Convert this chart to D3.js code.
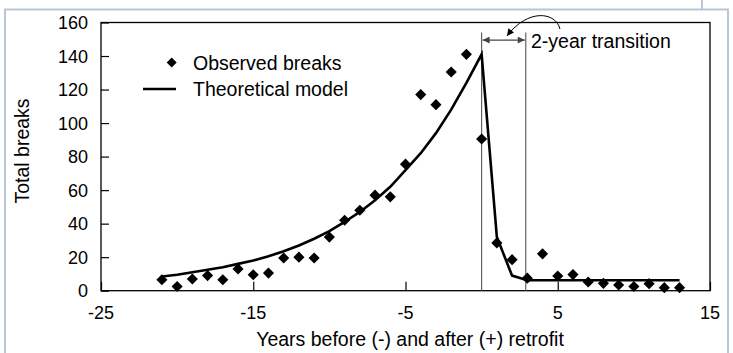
<!DOCTYPE html>
<html>
<head>
<meta charset="utf-8">
<script src="https://cdn.jsdelivr.net/npm/d3@7"></script>
<style>
  html, body { margin: 0; padding: 0; background: #fff; }
  svg { display: block; font-family: "Liberation Sans", Arial, Helvetica, sans-serif; }
</style>
</head>
<body>
<svg id="chart" width="733" height="353"></svg>
<script>
// ---- data ----
const observedYears = [-21,-20,-19,-18,-17,-16,-15,-14,-13,-12,-11,-10,-9,-8,-7,-6,-5,-4,-3,-2,-1,0,1,2,3,4,5,6,7,8,9,10,11,12,13];
const observedBreaks = [6.5,2.5,7,9,6.5,13,9.5,10.5,19.5,20,19.5,32,42,48,57,56,75.5,117,111,130.5,141,90.5,28.5,18.5,7.5,22,8.8,9.6,5.2,4.4,3.4,2.5,4.2,1.8,1.8];
const modelYears = [-21,-20,-19,-18,-17,-16,-15,-14,-13,-12,-11,-10,-9,-8,-7,-6,-5,-4,-3,-2,-1,0,1,2,3,4,5,6,7,8,9,10,11,12,13];
const modelBreaks = [8.5,9.5,11,12.5,14,16,18,20.5,23.5,27,31,35.5,41,47,54,62,72,82,94,108,124,141,32,9,6.2,6.2,6.2,6.2,6.2,6.2,6.2,6.2,6.2,6.2,6.2];
const xTicks = [-25,-15,-5,5,15];
const yTicks = [0,20,40,60,80,100,120,140,160];
const transitionLines = [0, 2.9];
const legendLabels = ["Observed breaks", "Theoretical model"];
const xTitle = "Years before (-) and after (+) retrofit";
const yTitle = "Total breaks";
const annotation = "2-year transition";

// ---- layout ----
const svg = d3.select("#chart");
const L = 101, R = 710, T = 22.5, B = 290.7;
const x = d3.scaleLinear().domain([-25, 15]).range([L, R]);
const y = d3.scaleLinear().domain([0, 160]).range([B, T]);
const labelSize = 19.5, tickSize = 18;

// outer frame
const frameColor = "#b7c7d6";
svg.append("path")
  .attr("d", `M5,353 L5,9.5 L728,9.5 L728,353`)
  .attr("fill", "none").attr("stroke", frameColor).attr("stroke-width", 2);
svg.append("line").attr("x1", 702).attr("x2", 702).attr("y1", 0).attr("y2", 9.5)
  .attr("stroke", frameColor).attr("stroke-width", 2);

// plot border
svg.append("rect").attr("x", L).attr("y", T).attr("width", R - L).attr("height", B - T)
  .attr("fill", "none").attr("stroke", "#000").attr("stroke-width", 1.3);

// y axis ticks (inward)
const yAxis = d3.axisRight(y).tickValues(yTicks).tickSize(8).tickFormat("");
svg.append("g").attr("transform", `translate(${L},0)`).call(yAxis)
  .call(g => g.select(".domain").remove())
  .call(g => g.selectAll("line").attr("stroke", "#000").attr("stroke-width", 1.2));
svg.append("g").selectAll("text").data(yTicks).join("text")
  .attr("x", 88).attr("y", d => y(d) + 6.5)
  .attr("text-anchor", "end").attr("font-size", tickSize).attr("fill", "#000")
  .text(d => d);

// x axis ticks (inward)
const xAxis = d3.axisTop(x).tickValues(xTicks).tickSize(9).tickFormat("");
svg.append("g").attr("transform", `translate(0,${B})`).call(xAxis)
  .call(g => g.select(".domain").remove())
  .call(g => g.selectAll("line").attr("stroke", "#000").attr("stroke-width", 1.2));
svg.append("g").selectAll("text").data(xTicks).join("text")
  .attr("x", d => x(d)).attr("y", 319)
  .attr("text-anchor", "middle").attr("font-size", tickSize).attr("fill", "#000")
  .text(d => d);

// axis titles
svg.append("text").attr("x", 410).attr("y", 346).attr("text-anchor", "middle")
  .attr("font-size", labelSize).attr("fill", "#000").text(xTitle);
svg.append("text").attr("transform", `translate(29,151) rotate(-90)`)
  .attr("text-anchor", "middle").attr("font-size", labelSize).attr("fill", "#000").text(yTitle);

// transition vertical lines
svg.append("g").selectAll("line").data(transitionLines).join("line")
  .attr("x1", d => x(d)).attr("x2", d => x(d))
  .attr("y1", y(154)).attr("y2", B)
  .attr("stroke", "#555").attr("stroke-width", 1.1);

// arrow markers
const defs = svg.append("defs");
defs.append("marker").attr("id", "ah").attr("viewBox", "0 0 10 10")
  .attr("refX", 10).attr("refY", 5).attr("markerWidth", 8).attr("markerHeight", 7)
  .attr("markerUnits", "userSpaceOnUse").attr("orient", "auto-start-reverse")
  .append("path").attr("d", "M0,0 L10,5 L0,10 Z").attr("fill", "#444");
defs.append("marker").attr("id", "ah2").attr("viewBox", "0 0 10 10")
  .attr("refX", 10).attr("refY", 5).attr("markerWidth", 8).attr("markerHeight", 7)
  .attr("markerUnits", "userSpaceOnUse").attr("orient", "auto")
  .append("path").attr("d", "M0,0 L10,5 L0,10 Z").attr("fill", "#000");

// double arrow between transition lines
const ay = y(149.5);
svg.append("line")
  .attr("x1", x(transitionLines[0]) + 1).attr("x2", x(transitionLines[1]) - 1)
  .attr("y1", ay).attr("y2", ay)
  .attr("stroke", "#444").attr("stroke-width", 1.2)
  .attr("marker-start", "url(#ah)").attr("marker-end", "url(#ah)");

// curved arrow
svg.append("path")
  .attr("d", `M560,29 C556,12 528,8 507,36`)
  .attr("fill", "none").attr("stroke", "#000").attr("stroke-width", 1)
  .attr("marker-end", "url(#ah2)");

svg.append("text").attr("x", 531).attr("y", 48)
  .attr("font-size", labelSize).attr("fill", "#000").text(annotation);

// model line
const modelData = modelYears.map((d, i) => [d, modelBreaks[i]]);
svg.append("path").datum(modelData)
  .attr("d", d3.line().x(d => x(d[0])).y(d => y(d[1])))
  .attr("fill", "none").attr("stroke", "#000").attr("stroke-width", 2.6)
  .attr("stroke-linejoin", "miter");

// observed points
const diamond = d3.symbol().type(d3.symbolSquare).size(62);
svg.append("g").selectAll("path").data(observedYears).join("path")
  .attr("transform", (d, i) => `translate(${x(d)},${y(observedBreaks[i])}) rotate(45)`)
  .attr("d", diamond).attr("fill", "#000");

// legend
svg.append("path").attr("transform", "translate(171.7,62.5) rotate(45)")
  .attr("d", d3.symbol().type(d3.symbolSquare).size(50)).attr("fill", "#000");
svg.append("text").attr("x", 193).attr("y", 69.5).attr("font-size", labelSize).attr("fill", "#000").text(legendLabels[0]);
svg.append("line").attr("x1", 143).attr("x2", 176).attr("y1", 89).attr("y2", 89)
  .attr("stroke", "#000").attr("stroke-width", 2.6);
svg.append("text").attr("x", 193).attr("y", 96).attr("font-size", labelSize).attr("fill", "#000").text(legendLabels[1]);
</script>
</body>
</html>
